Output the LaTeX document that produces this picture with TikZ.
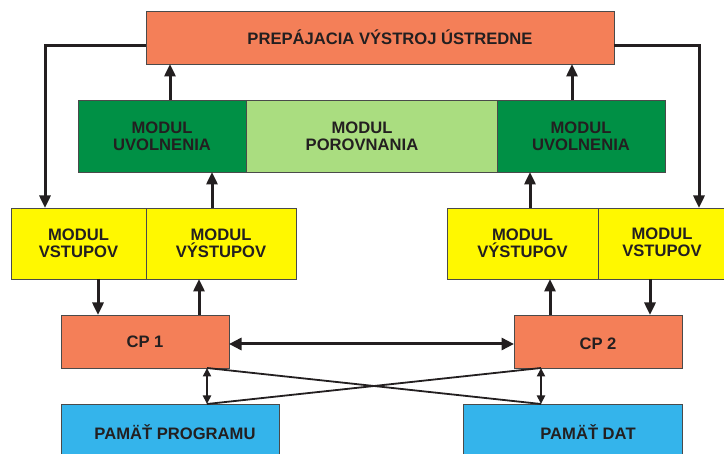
\documentclass[tikz,border=0pt]{standalone}
\usepackage{fontspec}
\setmainfont{Liberation Sans}
\usetikzlibrary{arrows.meta}
\definecolor{cporange}{HTML}{F47F58}
\definecolor{dkgreen}{HTML}{009045}
\definecolor{ltgreen}{HTML}{AADD80}
\definecolor{ylw}{HTML}{FFF800}
\definecolor{memblue}{HTML}{34B4EB}
\definecolor{txt}{HTML}{231F20}
\definecolor{edge}{HTML}{4A4A4A}
\begin{document}
\begin{tikzpicture}[x=1pt,y=-1pt,
  box/.style={draw=edge,line width=0.8pt,inner sep=0pt,outer sep=0pt,align=center,
    font=\fontsize{16.6}{17}\selectfont\bfseries,text=txt},
  lbl/.style={inner sep=0pt,align=center,font=\fontsize{16.6}{17}\selectfont\bfseries,text=txt},
  arr/.style={draw=txt,line width=3pt,-{Triangle[length=12.5pt,width=11pt]}},
  darr/.style={draw=txt,line width=3pt,{Triangle[length=12.5pt,width=12pt]}-{Triangle[length=12.5pt,width=12pt]}},
  tarr/.style={draw=txt,line width=2pt,{Triangle[length=8.5pt,width=8pt]}-{Triangle[length=8.5pt,width=8pt]}},
  cross/.style={draw=txt,line width=1.8pt},
  plain/.style={draw=txt,line width=3pt}]
\useasboundingbox (0,0) rectangle (724,454);
\clip (0,0) rectangle (724,454);
\fill[white] (0,0) rectangle (724,454);
% top
\node[box,fill=cporange,minimum width=468pt,minimum height=53pt] (top) at (380,37.5) {};
\node[lbl] (topt) at (390,37) {PREPÁJACIA VÝSTROJ ÚSTREDNE};
% green row
\node[box,fill=dkgreen,minimum width=168pt,minimum height=72pt] (g1) at (162,136) {MODUL\\UVOLNENIA};
\node[box,fill=ltgreen,minimum width=251pt,minimum height=72pt] (g2) at (371.5,136) {};
\node[lbl] (g2t) at (362,136) {MODUL\\POROVNANIA};
\node[box,fill=dkgreen,minimum width=168pt,minimum height=72pt] (g3) at (581,136) {MODUL\\UVOLNENIA};
% yellow row
\node[box,fill=ylw,minimum width=135pt,minimum height=71pt] (y1) at (78.5,243.5) {MODUL\\VSTUPOV};
\node[box,fill=ylw,minimum width=150pt,minimum height=71pt] (y2) at (221,243.5) {MODUL\\VÝSTUPOV};
\node[box,fill=ylw,minimum width=151pt,minimum height=71pt] (y3) at (522.5,243.5) {MODUL\\VÝSTUPOV};
\node[box,fill=ylw,minimum width=142pt,minimum height=71pt] (y4) at (669,243.5) {};
\node[lbl] (y4t) at (662,242) {MODUL\\VSTUPOV};
% CP row
\node[box,fill=cporange,minimum width=168pt,minimum height=53pt] (cp1) at (145,341.5) {CP 1};
\node[box,fill=cporange,minimum width=168pt,minimum height=53pt] (cp2) at (598,341.5) {};
\node[lbl] (cp2t) at (598,344) {CP 2};
% memory
\node[box,fill=memblue,minimum width=218pt,minimum height=66pt] (m1) at (170,437) {};
\node[lbl] (m1t) at (175,432) {PAMÄŤ PROGRAMU};
\node[box,fill=memblue,minimum width=219pt,minimum height=66pt] (m2) at (572.5,437) {};
\node[lbl] (m2t) at (588,432) {PAMÄŤ DAT};
% arrows
\draw[arr] ([xshift=8pt]g1.north) -- ([xshift=8pt]g1.north |- top.south);
\draw[arr] ([xshift=-9pt]g3.north) -- ([xshift=-9pt]g3.north |- top.south);
\draw[arr] ([xshift=-9pt]y2.north) -- ([xshift=-9pt]y2.north |- g1.south);
\draw[arr] ([xshift=7.5pt]y3.north) -- ([xshift=7.5pt]y3.north |- g3.south);
\draw[arr] ([yshift=-8.5pt]top.west) -| ([xshift=-33.5pt]y1.north);
\draw[arr] ([yshift=-8.5pt]top.east) -| ([xshift=30pt]y4.north);
\draw[arr] ([xshift=19.5pt]y1.south) -- ([xshift=19.5pt]y1.south |- cp1.north);
\draw[arr] ([xshift=54pt]cp1.north) -- ([xshift=54pt]cp1.north |- y2.south);
\draw[arr] ([xshift=-48pt]cp2.north) -- ([xshift=-48pt]cp2.north |- y3.south);
\draw[arr] ([xshift=-19pt]y4.south) -- ([xshift=-19pt]y4.south |- cp2.north);
\draw[darr] ([yshift=-2.5pt]cp1.east) -- ([yshift=-2.5pt]cp2.west);
\draw[tarr] ([xshift=62pt]cp1.south) -- ([xshift=62pt]cp1.south |- m1.north);
\draw[tarr] ([xshift=-57pt]cp2.south) -- ([xshift=-57pt]cp2.south |- m2.north);
\draw[cross] ([xshift=62pt]cp1.south) -- ([xshift=-31.5pt]m2.north);
\draw[cross] ([xshift=37pt]m1.north) -- ([xshift=-57pt]cp2.south);
\end{tikzpicture}
\end{document}
